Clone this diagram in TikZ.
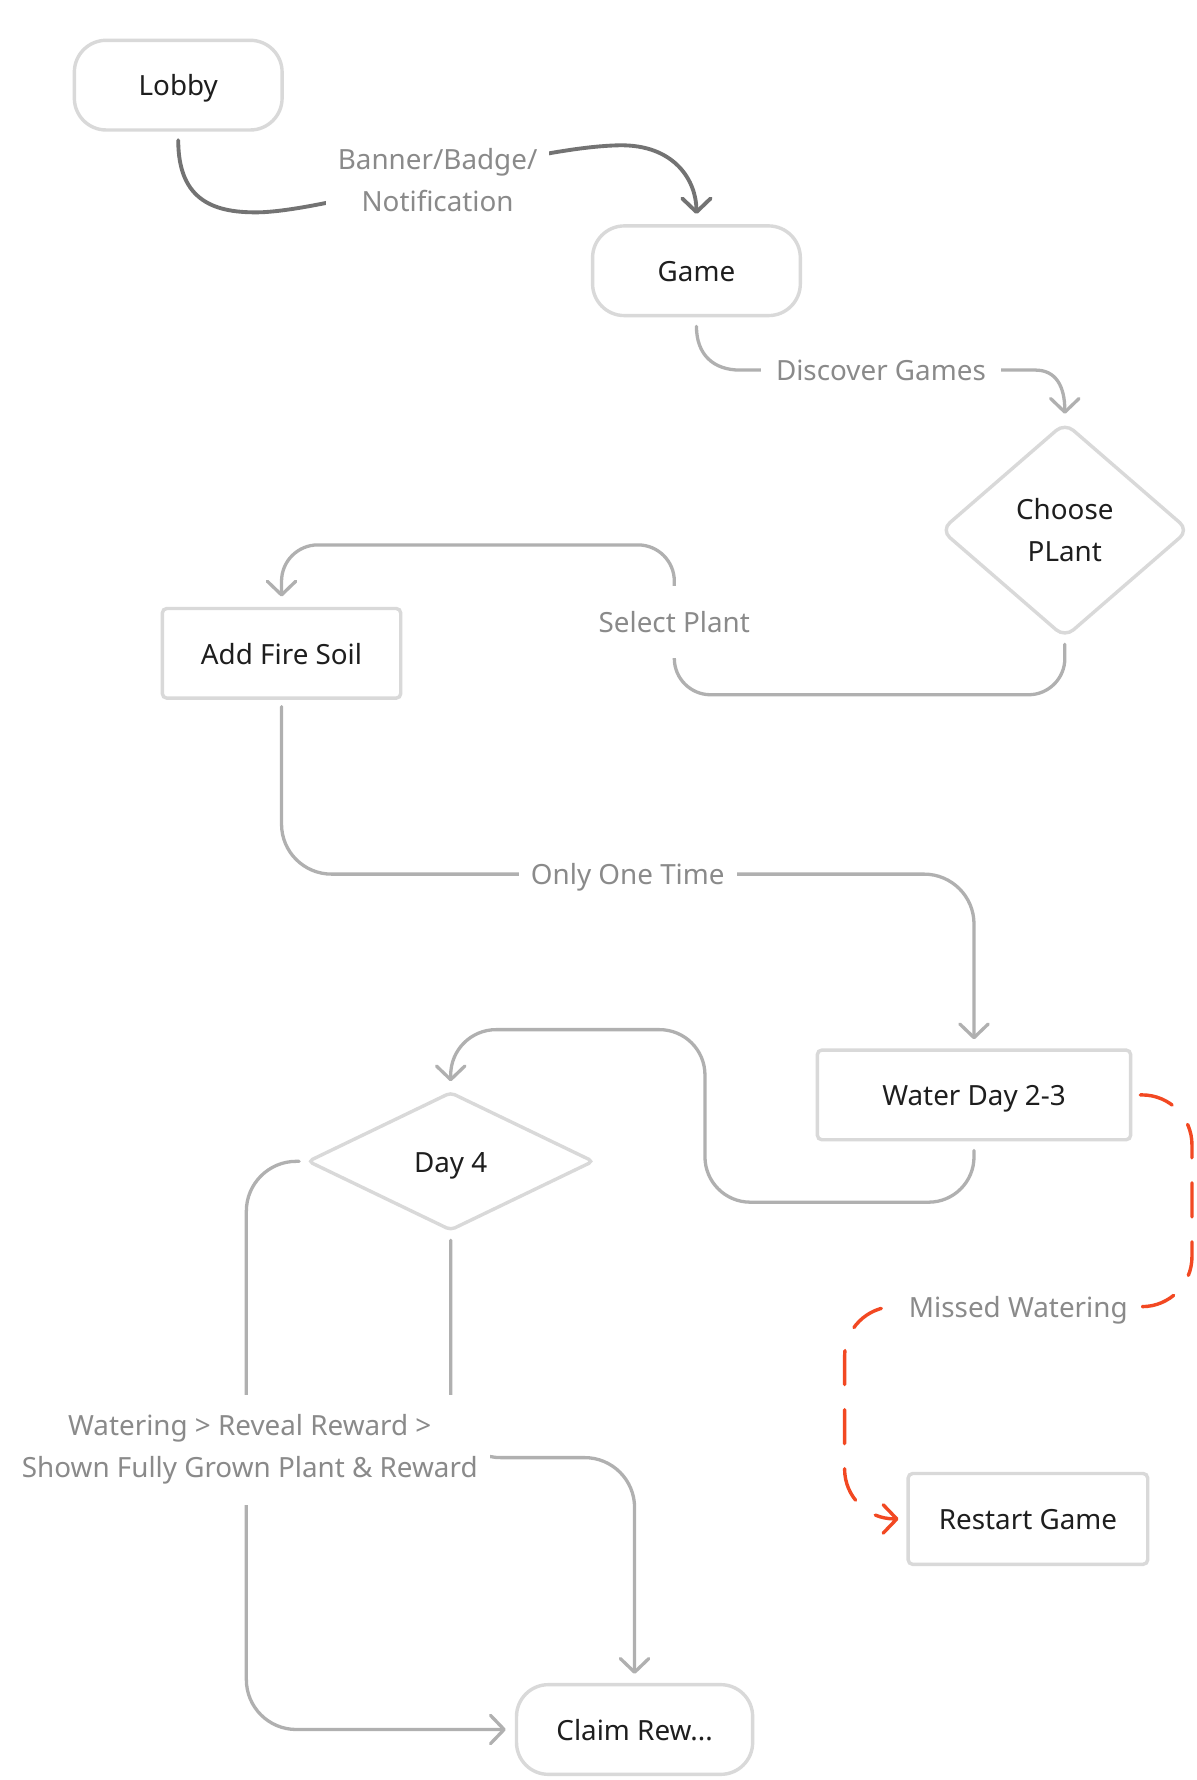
\documentclass[tikz,border=0pt]{standalone}
\usepackage{fontspec}
\setmainfont{Noto Sans}
\usetikzlibrary{arrows.meta,shapes.geometric}
\definecolor{bordercol}{HTML}{D9D9D9}
\definecolor{linecol}{HTML}{B0B0B0}
\definecolor{darkline}{HTML}{737373}
\definecolor{labelcol}{HTML}{8A8A8A}
\definecolor{textcol}{HTML}{1E1E1E}
\definecolor{redcol}{HTML}{F24822}
\tikzset{
  nodetext/.style={text=textcol, font=\fontsize{12.25}{18.5}\selectfont, align=center, inner sep=0pt},
  oneline/.style={text height=11pt, text depth=1.5pt},
  rbox/.style={nodetext, oneline, draw=bordercol, line width=1.5pt, rounded corners=14pt, minimum width=91.5pt, minimum height=39.5pt},
  sbox/.style={nodetext, oneline, draw=bordercol, line width=1.5pt, rounded corners=2pt, minimum height=39.5pt},
  dia/.style={nodetext, shape=diamond, draw=bordercol, line width=1.5pt, rounded corners=5pt},
  lbl/.style={text=labelcol, font=\fontsize{12.25}{18.5}\selectfont, align=center, fill=white, inner sep=0pt},
  arr/.style={-{Straight Barb[length=6pt,width=12.5pt,line cap=round,line join=round]}},
  conn/.style={draw=linecol, line width=1.45pt, line cap=round, arr},
  dconn/.style={draw=darkline, line width=1.7pt, line cap=round, arr},
  rconn/.style={draw=redcol, line width=1.5pt, line cap=round, dash pattern=on 15pt off 11pt, arr},
}
\begin{document}
\begin{tikzpicture}[x=0.5pt,y=-0.5pt]
\useasboundingbox[fill=white] (0,0) rectangle (1054,1568);
% nodes
\node[rbox] (lobby) at (157,75) {Lobby};
\node[rbox] (game) at (613.5,238.5) {Game};
\node[dia, minimum width=109.5pt, minimum height=95pt] (choose) at (938,467) {Choose\\PLant};
\node[sbox, minimum width=105pt] (fire) at (248,575.5) {Add Fire Soil};
\node[sbox, minimum width=138pt] (water) at (858,964.5) {Water Day 2-3};
\node[dia, oneline, rounded corners=2pt, minimum width=126pt, minimum height=61pt] (day4) at (397,1023) {Day 4};
\node[sbox, minimum width=105.5pt, minimum height=40pt] (restart) at (905.5,1338) {Restart Game};
\node[rbox, minimum width=104pt] (claim) at (559,1523.5) {Claim Rew...};
% connectors
\draw[dconn, shorten <=3.75pt, shorten >=4.5pt] (lobby.south) .. controls (157,178) and (190,188) .. (230,187)
  .. controls (300,184) and (460,130) .. (545,128) .. controls (595,127) and (613.5,160) .. (game.north);
\node[lbl, minimum width=98.5pt, minimum height=35pt] (l1) at (385.5,159) {Banner/Badge/\\Notification};

\draw[conn, shorten <=4pt, shorten >=3pt] (game.south) .. controls (613.5,312) and (628,326) .. (652,326)
  -- (912,326) .. controls (930,326) and (938,340) .. (choose.north);
\node[lbl, oneline, minimum width=106pt, minimum height=14pt] (l2) at (776,326) {Discover Games};

\draw[conn, rounded corners=16pt, shorten <=2pt, shorten >=4.5pt] (choose.south) -- (938,612) -- (594,612)
  -- (594,480) -- (248,480) -- (fire.north);
\node[lbl, oneline, minimum width=72pt, minimum height=32pt] (l3) at (594,548) {Select Plant};

\draw[conn, rounded corners=22pt, shorten <=3pt, shorten >=4pt] (fire.south) -- (248,770) -- (858,770) -- (water.north);
\node[lbl, oneline, minimum width=96pt, minimum height=14pt] (l4) at (553,770) {Only One Time};

\draw[conn, rounded corners=20pt, shorten <=4pt, shorten >=4pt] (water.south) -- (858,1059) -- (621,1059)
  -- (621,907) -- (397,907) -- (day4.north);

\draw[conn, rounded corners=22pt, shorten <=3pt, shorten >=4pt] (day4.west) -- (217,1023) -- (217,1523.5) -- (claim.west);
\draw[conn, rounded corners=22pt, shorten <=3.5pt, shorten >=4pt] (day4.south) -- (397,1284) -- (559,1284) -- (claim.north);
\node[lbl, minimum width=212pt, minimum height=48.5pt] (l5) at (220,1277) {Watering \textgreater{} Reveal Reward \textgreater{}\\Shown Fully Grown Plant \& Reward};

\draw[rconn, rounded corners=22pt, shorten <=3.5pt, shorten >=3.5pt] (water.east) -- (1050,964.5) -- (1050,1151)
  -- (744,1151) -- (744,1338) -- (restart.west);
\node[lbl, oneline, minimum width=108pt, minimum height=16pt] (l6) at (897,1151) {Missed Watering};
\end{tikzpicture}
\end{document}
